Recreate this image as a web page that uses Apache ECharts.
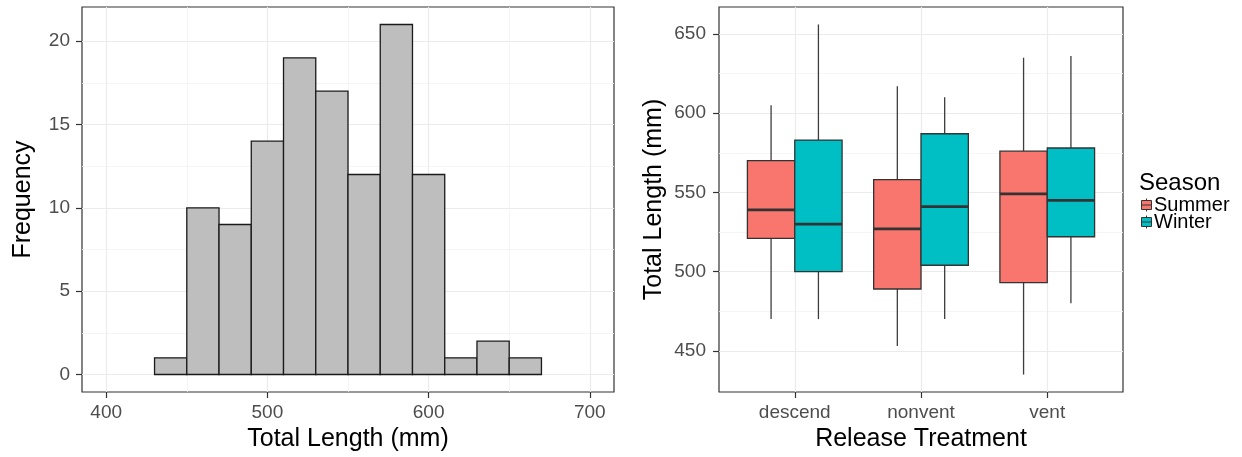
<!DOCTYPE html>
<html>
<head>
<meta charset="utf-8">
<script src="https://cdn.jsdelivr.net/npm/echarts@6/dist/echarts.min.js"></script>
<style>
  html, body { margin: 0; padding: 0; background: #ffffff; }
  #chart { width: 1242px; height: 457px; }
</style>
</head>
<body>
<div id="chart"></div>
<script>
// Histogram of total length (20 mm bins)
const binEdges = [430, 450, 470, 490, 510, 530, 550, 570, 590, 610, 630, 650, 670];
const binCounts = [1, 10, 9, 14, 19, 17, 12, 21, 12, 1, 2, 1];

const histXTicks = [400, 500, 600, 700];
const histXMinor = [450, 550, 650];
const histYTicks = [0, 5, 10, 15, 20];
const histYMinor = [2.5, 7.5, 12.5, 17.5];

// Box plot summaries per release treatment: [min, Q1, median, Q3, max]
const treatments = ['descend', 'nonvent', 'vent'];
const seasons = ['Summer', 'Winter'];
const seasonColors = ['#F8766D', '#00BFC4'];
const summerStats = [
  [470, 521, 539, 570, 605],
  [453, 489, 527, 558, 617],
  [435, 493, 549, 576, 635]
];
const winterStats = [
  [470, 500, 530, 583, 656],
  [470, 504, 541, 587, 610],
  [480, 522, 545, 578, 636]
];
const boxYTicks = [450, 500, 550, 600, 650];
const boxYMinor = [475, 525, 575, 625];

const FONT = 'Liberation Sans, Arial, sans-serif';
const GRID_MAJOR = '#EBEBEB';
const GRID_MINOR = '#F2F2F2';
const INK = '#333333';
const TICK_TEXT = '#4D4D4D';

// dodge: each season box takes 0.375 of a category slot
const DODGE = 0.75;
const boxWidthUnits = DODGE / seasons.length;

function boxData(stats, seasonIdx) {
  return stats.map(function (s, i) {
    const centre = (i + 1) - DODGE / 2 + boxWidthUnits * (seasonIdx + 0.5);
    return [centre].concat(s);
  });
}

function renderBox(params, api) {
  const x = api.value(0);
  const lo = api.coord([x, api.value(1)]);
  const q1 = api.coord([x, api.value(2)]);
  const med = api.coord([x, api.value(3)]);
  const q3 = api.coord([x, api.value(4)]);
  const hi = api.coord([x, api.value(5)]);
  const half = api.size([boxWidthUnits, 0])[0] / 2;
  const color = seasonColors[params.seriesIndex - 1];
  return {
    type: 'group',
    children: [
      { type: 'line', shape: { x1: hi[0], y1: hi[1], x2: q3[0], y2: q3[1] },
        style: { stroke: '#3d3d3d', lineWidth: 1.3 } },
      { type: 'line', shape: { x1: q1[0], y1: q1[1], x2: lo[0], y2: lo[1] },
        style: { stroke: '#3d3d3d', lineWidth: 1.3 } },
      { type: 'rect', shape: { x: q3[0] - half, y: q3[1], width: half * 2, height: q1[1] - q3[1] },
        style: { fill: color, stroke: INK, lineWidth: 1.3 } },
      { type: 'line', shape: { x1: med[0] - half, y1: med[1], x2: med[0] + half, y2: med[1] },
        style: { stroke: INK, lineWidth: 2.8 } }
    ]
  };
}

function renderBin(params, api) {
  const p0 = api.coord([api.value(0), 0]);
  const p1 = api.coord([api.value(1), api.value(2)]);
  return {
    type: 'rect',
    shape: { x: p0[0], y: p1[1], width: p1[0] - p0[0], height: p0[1] - p1[1] },
    style: { fill: '#BEBEBE', stroke: '#1A1A1A', lineWidth: 1.3 }
  };
}

const histData = binCounts.map(function (c, i) { return [binEdges[i], binEdges[i + 1], c]; });

function majorAxis(extra) {
  return Object.assign({
    type: 'value',
    axisLine: { show: false, onZero: false },
    splitLine: { show: true, lineStyle: { color: GRID_MAJOR, width: 1.2 } },
    nameLocation: 'middle',
    nameTextStyle: { color: '#000', fontSize: 25, fontFamily: FONT }
  }, extra);
}

function tickStyle(values) {
  return { show: true, length: 6, lineStyle: { color: INK, width: 1.2 }, customValues: values };
}

function labelStyle(values, margin, formatter) {
  const s = { color: TICK_TEXT, fontSize: 19, fontFamily: FONT, margin: margin, customValues: values };
  if (formatter) s.formatter = formatter;
  return s;
}

function minorAxis(extra, values) {
  return Object.assign({
    type: 'value',
    axisLine: { show: false, onZero: false },
    axisTick: { show: false, customValues: values },
    axisLabel: { show: false, customValues: values },
    splitLine: { show: true, lineStyle: { color: GRID_MINOR, width: 0.8 } }
  }, extra);
}

const chart = echarts.init(document.getElementById('chart'), null, { renderer: 'canvas' });

chart.setOption({
  animation: false,
  backgroundColor: '#ffffff',
  textStyle: { fontFamily: FONT },
  title: {
    text: 'Season',
    left: 1139, top: 171, padding: 0,
    textStyle: { fontSize: 24, fontWeight: 'normal', color: '#000', fontFamily: FONT }
  },
  legend: {
    data: seasons,
    orient: 'vertical',
    left: 1141, top: 195, padding: 0,
    itemWidth: 11, itemHeight: 13, itemGap: -3,
    icon: 'path://M0,2H10V11H0Z M5,0V2 M5,11V13 M0,6.5H10',
    itemStyle: { borderColor: INK, borderWidth: 1 },
    textStyle: { fontSize: 20, color: '#000', fontFamily: FONT, padding: [0, 0, 0, -3], lineHeight: 16 }
  },
  grid: [
    { left: 82, top: 7, width: 532, height: 385, show: true, borderColor: INK, borderWidth: 1.2, backgroundColor: 'transparent' },
    { left: 719, top: 7, width: 404, height: 386, show: true, borderColor: INK, borderWidth: 1.2, backgroundColor: 'transparent' }
  ],
  xAxis: [
    majorAxis({
      gridIndex: 0, position: 'bottom', min: 385, max: 715,
      name: 'Total Length (mm)', nameGap: 35,
      axisTick: tickStyle(histXTicks),
      axisLabel: labelStyle(histXTicks, 11)
    }),
    minorAxis({ gridIndex: 0, position: 'top', min: 385, max: 715 }, histXMinor),
    majorAxis({
      gridIndex: 1, position: 'bottom', min: 0.4, max: 3.6,
      name: 'Release Treatment', nameGap: 35,
      axisTick: tickStyle([1, 2, 3]),
      axisLabel: labelStyle([1, 2, 3], 11, function (v) { return treatments[Math.round(v) - 1]; })
    })
  ],
  yAxis: [
    majorAxis({
      gridIndex: 0, position: 'left', min: -1.05, max: 22.05,
      name: 'Frequency', nameGap: 46,
      axisTick: tickStyle(histYTicks),
      axisLabel: labelStyle(histYTicks, 12)
    }),
    minorAxis({ gridIndex: 0, position: 'right', min: -1.05, max: 22.05 }, histYMinor),
    majorAxis({
      gridIndex: 1, position: 'left', min: 424, max: 667,
      name: 'Total Length (mm)', nameGap: 52,
      axisTick: tickStyle(boxYTicks),
      axisLabel: labelStyle(boxYTicks, 13)
    }),
    minorAxis({ gridIndex: 1, position: 'right', min: 424, max: 667 }, boxYMinor)
  ],
  series: [
    {
      name: 'Frequency', type: 'custom', xAxisIndex: 0, yAxisIndex: 0,
      renderItem: renderBin, encode: { x: [0, 1], y: 2 }, data: histData, silent: true
    },
    {
      name: 'Summer', type: 'custom', xAxisIndex: 2, yAxisIndex: 2,
      itemStyle: { color: seasonColors[0], borderColor: INK, borderWidth: 1 },
      renderItem: renderBox, encode: { x: 0, y: [1, 2, 3, 4, 5] }, data: boxData(summerStats, 0)
    },
    {
      name: 'Winter', type: 'custom', xAxisIndex: 2, yAxisIndex: 2,
      itemStyle: { color: seasonColors[1], borderColor: INK, borderWidth: 1 },
      renderItem: renderBox, encode: { x: 0, y: [1, 2, 3, 4, 5] }, data: boxData(winterStats, 1)
    }
  ]
});
</script>
</body>
</html>
